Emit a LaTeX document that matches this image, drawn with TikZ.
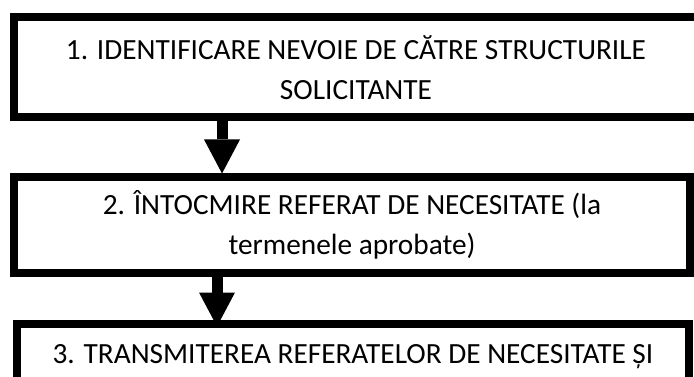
\documentclass[tikz,border=0pt]{standalone}
\usepackage{fontspec}
\setmainfont{Carlito}
\usetikzlibrary{arrows.meta}
\begin{document}
\begin{tikzpicture}[x=1pt, y=1pt]
    \tikzset{stepbox/.style={draw=black, line width=8pt, rectangle, inner sep=0pt, align=center, font=\fontsize{29.3}{40}\selectfont}};
    \tikzset{flow/.style={-{Triangle[width=36pt, length=34pt, line width=0pt]}, line width=11pt}};
    \useasboundingbox (0,0) rectangle (694,-377);
    \node[stepbox, minimum width=684pt, minimum height=100pt] (box1) at (356,-67.5) {1. IDENTIFICARE NEVOIE DE CĂTRE STRUCTURILE\\SOLICITANTE};
    \node[stepbox, minimum width=676pt, minimum height=95pt] (box2) at (352,-225) {2. ÎNTOCMIRE REFERAT DE NECESITATE (la\\termenele aprobate)};
    \node[stepbox, minimum width=672pt, minimum height=66pt] (box3) at (353,-356.5) {3. TRANSMITEREA REFERATELOR DE NECESITATE ȘI};
    {
       \path[flow]
        ([xshift=212pt]box1.south west) edge ([xshift=212pt]box2.north west)
        ([xshift=207pt]box2.south west) edge ([xshift=204pt, yshift=-7pt]box3.north west)
        ;
      }
    \end{tikzpicture}
\end{document}
